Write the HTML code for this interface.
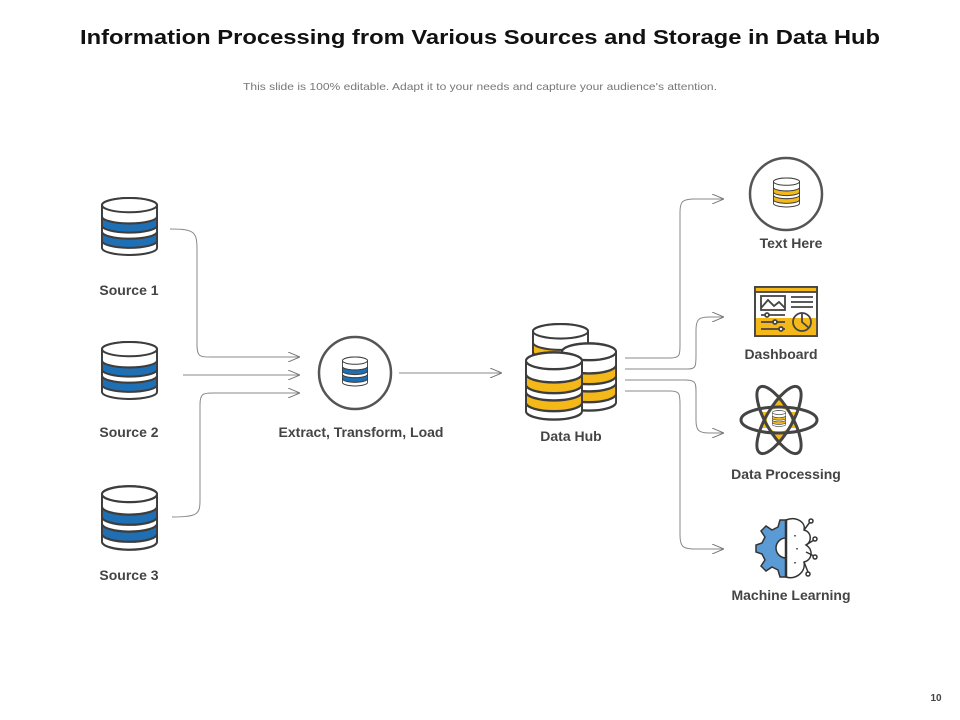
<!DOCTYPE html>
<html><head><meta charset="utf-8"><style>
html,body{margin:0;padding:0;background:#fff}
svg{display:block}
text{font-family:"Liberation Sans",sans-serif}
</style></head><body>
<svg width="960" height="720" viewBox="0 0 960 720" xmlns="http://www.w3.org/2000/svg">
<defs>
<symbol id="cylB" viewBox="-1 -1 58 60" preserveAspectRatio="none" overflow="visible">
 <path d="M0,8 A28,7 0 0 1 56,8 V50 A28,7 0 0 1 0,50 Z" fill="#fff" stroke="#3d3d3d" stroke-width="2"/>
 <path d="M0,19 A28,7 0 0 0 56,19 V28 A28,7 0 0 1 0,28 Z" fill="#1f6fb5" stroke="#3d3d3d" stroke-width="2"/>
 <path d="M0,34 A28,7 0 0 0 56,34 V43 A28,7 0 0 1 0,43 Z" fill="#1f6fb5" stroke="#3d3d3d" stroke-width="2"/>
 <ellipse cx="28" cy="8" rx="28" ry="7" fill="#fff" stroke="#3d3d3d" stroke-width="2"/>
</symbol>
<symbol id="cylY" viewBox="-1 -1 58 60" preserveAspectRatio="none" overflow="visible">
 <path d="M0,8 A28,7 0 0 1 56,8 V50 A28,7 0 0 1 0,50 Z" fill="#fff" stroke="#3d3d3d" stroke-width="2"/>
 <path d="M0,19 A28,7 0 0 0 56,19 V28 A28,7 0 0 1 0,28 Z" fill="#f4b918" stroke="#3d3d3d" stroke-width="2"/>
 <path d="M0,34 A28,7 0 0 0 56,34 V43 A28,7 0 0 1 0,43 Z" fill="#f4b918" stroke="#3d3d3d" stroke-width="2"/>
 <ellipse cx="28" cy="8" rx="28" ry="7" fill="#fff" stroke="#3d3d3d" stroke-width="2"/>
</symbol>
<marker id="ar" viewBox="0 0 12 10" refX="12" refY="5" markerWidth="12" markerHeight="10" markerUnits="userSpaceOnUse" orient="auto">
 <path d="M0,0 L12,5 L0,10" fill="none" stroke="#777" stroke-width="1"/>
</marker>
</defs>

<text x="480" y="44" text-anchor="middle" font-size="20" font-weight="bold" fill="#111" textLength="800" lengthAdjust="spacingAndGlyphs">Information Processing from Various Sources and Storage in Data Hub</text>
<text x="480" y="90" text-anchor="middle" font-size="10.5" fill="#777" textLength="474" lengthAdjust="spacingAndGlyphs">This slide is 100% editable. Adapt it to your needs and capture your audience's attention.</text>

<use href="#cylB" x="101" y="196" width="57" height="61"/>
<use href="#cylB" x="101" y="340" width="57" height="61"/>
<use href="#cylB" x="101" y="484" width="57" height="68"/>
<g font-size="14" font-weight="bold" fill="#444" text-anchor="middle">
<text x="129" y="295">Source 1</text>
<text x="129" y="437">Source 2</text>
<text x="129" y="580">Source 3</text>
<text x="361" y="437">Extract, Transform, Load</text>
<text x="571" y="441">Data Hub</text>
<text x="791" y="248">Text Here</text>
<text x="781" y="359">Dashboard</text>
<text x="786" y="479">Data Processing</text>
<text x="791" y="600">Machine Learning</text>
</g>

<g fill="none" stroke="#888" stroke-width="1">
<path d="M170,229 C195,229 197,232 197,250 V345 C197,357 200,357 212,357 H300" marker-end="url(#ar)"/>
<path d="M183,375 H300" marker-end="url(#ar)"/>
<path d="M172,517 C198,517 200,514 200,500 V405 C200,393 203,393 215,393 H300" marker-end="url(#ar)"/>
<path d="M399,373 H502" marker-end="url(#ar)"/>
<path d="M625,358 H670 C680,358 680,355 680,345 V212 C680,201 683,199 695,199 H724" marker-end="url(#ar)"/>
<path d="M625,369 H688 C696,369 696,366 696,355 V330 C696,319 699,317 710,317 H724" marker-end="url(#ar)"/>
<path d="M625,380 H685 C696,380 696,383 696,393 V420 C696,431 699,433 710,433 H724" marker-end="url(#ar)"/>
<path d="M625,391 H670 C680,391 680,394 680,405 V535 C680,547 683,549 695,549 H724" marker-end="url(#ar)"/>
</g>

<circle cx="355" cy="373" r="36" fill="#fff" stroke="#555" stroke-width="2.5"/>
<use href="#cylB" x="342" y="356" width="26" height="31"/>

<use href="#cylY" x="532" y="322" width="57" height="62"/>
<use href="#cylY" x="561" y="341" width="56" height="72"/>
<use href="#cylY" x="525" y="350" width="58" height="72"/>

<circle cx="786" cy="194" r="36" fill="#fff" stroke="#555" stroke-width="2.5"/>
<use href="#cylY" x="773" y="177" width="27" height="31"/>

<g stroke="#444" stroke-width="1.8" fill="none">
<rect x="755" y="287" width="62" height="49" fill="#fff"/>
<rect x="755" y="318" width="62" height="18" fill="#f4b918" stroke="none"/>
<rect x="755" y="287" width="62" height="49"/>
<rect x="755" y="287" width="62" height="5" fill="#f4b918"/>
<rect x="761" y="296" width="24" height="14"/>
<path d="M761,308 L768,300 L774,306 L779,302 L785,308"/>
<path d="M791,297 H813 M791,302 H813 M791,307 H813"/>
<path d="M761,315 H785 M761,322 H785 M761,329 H785"/>
<circle cx="767" cy="315" r="2" fill="#fff"/>
<circle cx="775" cy="322" r="2" fill="#fff"/>
<circle cx="781" cy="329" r="2" fill="#fff"/>
<circle cx="802" cy="322" r="9"/>
<path d="M802,313 V322 L809,328"/>
</g>

<g fill="none" stroke="#444" stroke-width="3">
<polygon points="779,394 799,428 759,428" fill="#f4b918" stroke="none"/>
<polygon points="779,446 799,412 759,412" fill="#f4b918" stroke="none"/>
<circle cx="779" cy="420" r="12" fill="#fff" stroke="none"/>
<ellipse cx="779" cy="420" rx="38" ry="13"/>
<ellipse cx="779" cy="420" rx="38" ry="13" transform="rotate(60 779 420)"/>
<ellipse cx="779" cy="420" rx="38" ry="13" transform="rotate(-60 779 420)"/>
</g>
<use href="#cylY" x="772" y="410" width="14" height="17"/>

<g stroke="#333" stroke-width="1.5">
<path d="M786,520 L780,520 L778,527 L772,530 L766,526 L761,531 L765,537 L762,543 L756,545 L756,552 L762,554 L765,560 L761,566 L766,571 L772,567 L778,570 L780,577 L786,577 Z" fill="#5b9bd5"/>
<circle cx="786" cy="548" r="10" fill="#fff"/>
<path d="M786,520 C796,516 806,522 804,530 C812,532 812,542 806,545 C814,550 812,560 804,562 C806,572 796,580 786,577 Z" fill="#fff"/>
<path d="M786,520 V577" stroke-width="2.5"/>
<path d="M804,530 L810,522 M806,545 L814,540 M806,552 L814,556 M804,562 L808,572" fill="none"/>
<circle cx="811" cy="521" r="2" fill="#fff"/>
<circle cx="815" cy="539" r="2" fill="#fff"/>
<circle cx="815" cy="557" r="2" fill="#fff"/>
<circle cx="808" cy="574" r="2" fill="#fff"/>
<path d="M795,535 v3 M797,548 v3 M795,562 v3" stroke-dasharray="1.5 1.5"/>
</g>

<text x="936" y="701" text-anchor="middle" font-size="10" font-weight="bold" fill="#444">10</text>
</svg>
</body></html>
